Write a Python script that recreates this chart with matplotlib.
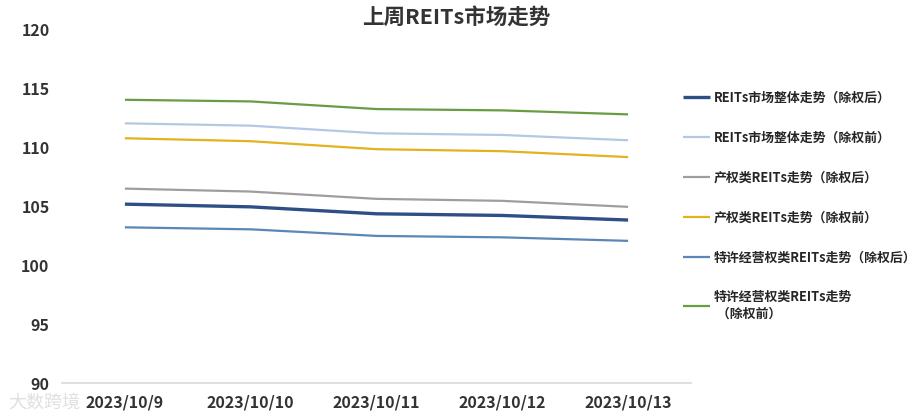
import matplotlib
matplotlib.use("Agg")
import matplotlib.pyplot as plt

plt.rcParams['font.family'] = ['Noto Sans CJK SC', 'DejaVu Sans']

dates = ["2023/10/9", "2023/10/10", "2023/10/11", "2023/10/12", "2023/10/13"]

market_after = [105.20, 104.97, 104.38, 104.24, 103.85]
market_before = [112.07, 111.87, 111.22, 111.08, 110.63]
property_after = [106.52, 106.27, 105.65, 105.48, 104.97]
property_before = [110.80, 110.55, 109.87, 109.70, 109.20]
franchise_after = [103.23, 103.06, 102.50, 102.38, 102.08]
franchise_before = [114.07, 113.93, 113.28, 113.17, 112.83]

labels = ["REITs市场整体走势（除权后）",
          "REITs市场整体走势（除权前）",
          "产权类REITs走势（除权后）",
          "产权类REITs走势（除权前）",
          "特许经营权类REITs走势（除权后）",
          "特许经营权类REITs走势\n （除权前）"]
series = [market_after, market_before, property_after, property_before,
          franchise_after, franchise_before]
colors = ["#2E4F86", "#B3C8E2", "#9E9E9E", "#E2B21F", "#5B87B8", "#6A9C45"]
widths = [2.4, 1.6, 1.6, 1.6, 1.6, 1.6]

fig = plt.figure(figsize=(9.22, 4.2), dpi=100)
ax = fig.add_axes([62 / 922, 1 - 383 / 420, 629 / 922, 353 / 420])

x = list(range(len(dates)))
for vals, lab, c, w in zip(series, labels, colors, widths):
    ax.plot(x, vals, color=c, lw=w, label=lab, solid_capstyle='butt')

ax.set_xlim(-0.5, len(dates) - 0.5)
ax.set_ylim(90, 120)
ax.set_yticks(range(90, 121, 5))
ax.set_xticks(x)
ax.set_xticklabels(dates)
for s in ["top", "left", "right"]:
    ax.spines[s].set_visible(False)
ax.spines["bottom"].set_color("#D9D9D9")
ax.spines["bottom"].set_linewidth(1.2)
ax.tick_params(axis='both', length=0, labelsize=11.5, colors="#333333")
ax.tick_params(axis='y', pad=9)
ax.tick_params(axis='x', pad=8)
for t in ax.get_xticklabels() + ax.get_yticklabels():
    t.set_fontweight('bold')

fig.text(0.495, 1 - 17 / 420, "上周REITs市场走势", ha='center', va='center',
         fontsize=15.5, fontweight='bold', color="#333333")

leg = fig.legend(loc='upper left', bbox_to_anchor=(683 / 922, 1 - 91 / 420),
                 frameon=False, fontsize=9.3, handlelength=2.1, handletextpad=0.3,
                 labelspacing=2.0, borderaxespad=0, borderpad=0)
for t in leg.get_texts():
    t.set_fontweight('bold')
    t.set_color("#262626")

# watermark
fig.text(8 / 922, 1 - 403 / 420, "大数跨境", fontsize=13, color="#CCCCCC",
         alpha=0.6, va='center', ha='left')

fig.savefig("out.png", dpi=100)
